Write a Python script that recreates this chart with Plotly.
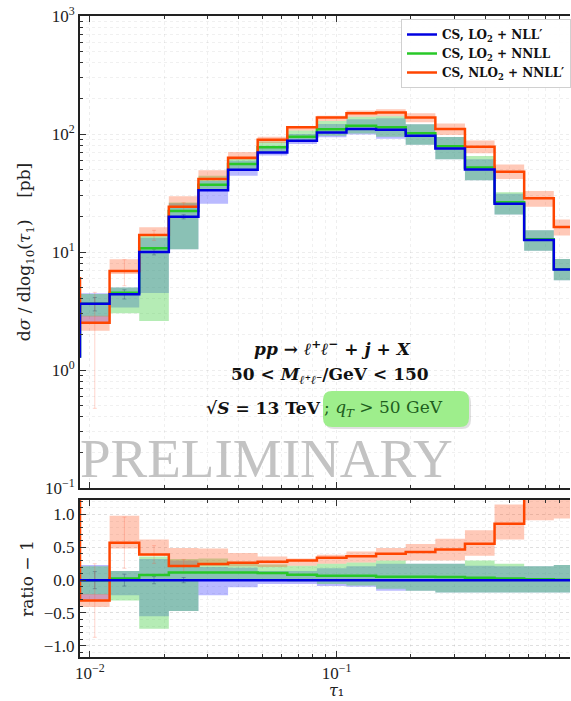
import numpy as np
import plotly.graph_objects as go

# ---------------- data ----------------
# bin edges in tau_1 (first bin lies just left of the visible range)
edges = [0.00692, 0.00912, 0.01202, 0.01585, 0.02089, 0.02754, 0.03631, 0.04786,
         0.0631, 0.08318, 0.1096, 0.1445, 0.1905, 0.2512, 0.3311, 0.4365,
         0.5754, 0.7586, 1.0]

# CS, LO2 + NLL'  : d sigma / d log10(tau1)  [pb]
blue_xs = [1.3, 3.64, 4.39, 10.0, 19.9, 33.3, 49.8, 69.8, 87.6, 103.0, 110.0,
           108.7, 96.6, 75.3, 50.1, 25.7, 12.66, 7.10]

# ratios to the LO2 + NLL' central value, minus 1
green_ratio = [0.0, 0.0, 0.026, 0.077, 0.118, 0.118, 0.118, 0.108, 0.082, 0.067,
               0.067, 0.05, 0.05, 0.046, 0.036, 0.026, 0.015, 0.005]
orange_ratio = [3.6, -0.31, 0.57, 0.39, 0.215, 0.246, 0.265, 0.28, 0.30, 0.34,
                0.365, 0.40, 0.43, 0.467, 0.554, 0.86, 1.25, 1.29]

# uncertainty bands (ratio - 1 units)
blue_lo = [0.0, -0.30, -0.23, -0.55, -0.47, -0.23, -0.11, -0.06, -0.06, -0.09,
           -0.10, -0.16, -0.16, -0.19, -0.19, -0.19, -0.19, -0.19]
blue_hi = [0.0, 0.23, 0.14, 0.32, 0.30, 0.20, 0.19, 0.14, 0.14, 0.18, 0.21,
           0.25, 0.25, 0.25, 0.22, 0.21, 0.21, 0.23]
green_lo = [0.0, -0.22, -0.31, -0.74, -0.47, -0.01, 0.0, 0.0, -0.02, -0.06,
            -0.08, -0.13, -0.16, -0.19, -0.19, -0.19, -0.19, -0.19]
green_hi = [0.0, 0.21, 0.14, 0.36, 0.32, 0.33, 0.28, 0.24, 0.22, 0.25, 0.27,
            0.30, 0.25, 0.25, 0.30, 0.25, 0.21, 0.23]
orange_lo = [3.6, -0.41, 0.48, 0.37, 0.20, 0.22, 0.21, 0.20, 0.22, 0.25, 0.27,
             0.30, 0.30, 0.30, 0.37, 0.62, 0.91, 0.94]
orange_hi = [3.6, -0.21, 0.98, 0.62, 0.49, 0.48, 0.415, 0.36, 0.33, 0.385,
             0.435, 0.49, 0.55, 0.63, 0.76, 1.15, 1.60, 1.65]

# faint statistical error bars (ratio units), first bins only
stat_bins = [1, 2, 3, 4]
blue_stat = [0.13, 0.09, 0.055, 0.04]
orange_stat = [0.56, 0.39, 0.135, 0.10]

labels = ["<b>CS, LO<sub>2</sub> + NLL′</b>", "<b>CS, LO<sub>2</sub> + NNLL</b>",
          "<b>CS, NLO<sub>2</sub> + NNLL′</b>"]

y_ticks = [0.1, 1, 10, 100, 1000]
y_ticktext = ["10<sup>−1</sup>", "10<sup>0</sup>", "10<sup>1</sup>",
              "10<sup>2</sup>", "10<sup>3</sup>"]
x_ticks = [0.01, 0.1]
x_ticktext = ["10<sup>−2</sup>", "10<sup>−1</sup>"]
r_ticks = [-1.0, -0.5, 0.0, 0.5, 1.0]
r_ticktext = ["−1.0", "−0.5", "0.0", "0.5", "1.0"]

# ---------------- styling ----------------
C_BLUE, C_GREEN, C_ORANGE = "rgb(0,0,225)", "rgb(40,200,40)", "rgb(255,69,0)"
F_BLUE = "rgba(40,40,255,0.32)"
F_GREEN = "rgba(60,205,60,0.38)"
F_ORANGE = "rgba(255,90,40,0.33)"
FONT = "Liberation Serif"
WFONT = "DejaVu Serif"

e = np.array(edges)
blue = np.array(blue_xs)


def step_xy(vals):
    return list(e), list(vals) + [vals[-1]]


def band_poly(lo, hi):
    xs, ys = [], []
    for i in range(len(lo)):
        xs += [e[i], e[i + 1]]
        ys += [hi[i], hi[i]]
    for i in reversed(range(len(lo))):
        xs += [e[i + 1], e[i]]
        ys += [lo[i], lo[i]]
    return xs, ys


fig = go.Figure()

bands = [(blue_lo, blue_hi, F_BLUE), (green_lo, green_hi, F_GREEN),
         (orange_lo, orange_hi, F_ORANGE)]
for lo, hi, fc in bands:
    lo = np.array(lo); hi = np.array(hi)
    bx, by = band_poly(blue * (1 + lo), blue * (1 + hi))
    fig.add_trace(go.Scatter(x=bx, y=by, fill="toself", fillcolor=fc, mode="none",
                             showlegend=False, hoverinfo="skip", xaxis="x", yaxis="y"))
    rx, ry = band_poly(lo, hi)
    fig.add_trace(go.Scatter(x=rx, y=ry, fill="toself", fillcolor=fc, mode="none",
                             showlegend=False, hoverinfo="skip", xaxis="x2", yaxis="y2"))

# faint stat error bars
centers = np.sqrt(e[:-1] * e[1:])
sb = np.array(stat_bins)
for stat, rat, col in [(blue_stat, np.zeros(len(blue)), "rgba(60,90,120,0.45)"),
                       (orange_stat, np.array(orange_ratio), "rgba(255,90,60,0.25)")]:
    st = np.array(stat)
    fig.add_trace(go.Scatter(x=centers[sb], y=blue[sb] * (1 + rat[sb]), mode="markers",
                             marker=dict(size=1, color="rgba(0,0,0,0)"),
                             error_y=dict(type="data", array=st * blue[sb], color=col,
                                          thickness=1, width=2),
                             showlegend=False, hoverinfo="skip", xaxis="x", yaxis="y"))
    fig.add_trace(go.Scatter(x=centers[sb], y=rat[sb], mode="markers",
                             marker=dict(size=1, color="rgba(0,0,0,0)"),
                             error_y=dict(type="data", array=st, color=col,
                                          thickness=1, width=2),
                             showlegend=False, hoverinfo="skip", xaxis="x2", yaxis="y2"))

# central lines
series = [(np.array(green_ratio), C_GREEN),
          (np.array(orange_ratio), C_ORANGE),
          (np.zeros(len(blue)), C_BLUE)]
for rat, col in series:
    sx, sy = step_xy(blue * (1 + rat))
    fig.add_trace(go.Scatter(x=sx, y=sy, mode="lines", line=dict(color=col, width=2.5, shape="hv"),
                             showlegend=False, xaxis="x", yaxis="y"))
    rx, ry = step_xy(rat)
    fig.add_trace(go.Scatter(x=rx, y=ry, mode="lines", line=dict(color=col, width=2.5, shape="hv"),
                             showlegend=False, xaxis="x2", yaxis="y2"))

# legend entries (in legend order)
for col, name in [(C_BLUE, labels[0]), (C_GREEN, labels[1]), (C_ORANGE, labels[2])]:
    fig.add_trace(go.Scatter(x=[None], y=[None], mode="lines",
                             line=dict(color=col, width=2.5), name=name,
                             xaxis="x", yaxis="y"))

# ---------------- layout ----------------
W, H = 571, 701
L, R, T, B = 80, 1, 16, 44
pw, ph = W - L - R, H - T - B


def px(xp):
    return (xp - L) / pw


def py(yp):
    return (H - B - yp) / ph


grid = dict(showgrid=True, gridcolor="rgba(0,0,0,0.07)", griddash="dot", gridwidth=1)
minor_x = dict(ticks="inside", ticklen=3, tickcolor="#333", showgrid=True,
               gridcolor="rgba(0,0,0,0.06)", griddash="dot",
               tickvals=[m * 10 ** k for k in (-3, -2, -1) for m in range(2, 10)])
xr = [np.log10(e[1]), -1 + (570 - 336.7) / 246.7]
xcommon = dict(type="log", range=xr, showline=True, linecolor="#222", linewidth=2,
               mirror="ticks", ticks="inside", ticklen=6, tickcolor="#333",
               tickvals=x_ticks, ticktext=x_ticktext, minor=minor_x, zeroline=False,
               tickfont=dict(family=FONT, size=17, color="#222"), **grid)

top_lo = py(488)
rat_hi = py(500)

fig.update_layout(
    width=W, height=H, margin=dict(l=L, r=R, t=T, b=B, autoexpand=False),
    paper_bgcolor="white", plot_bgcolor="white",
    font=dict(family=FONT, color="#222"),
    xaxis=dict(domain=[0, 1], anchor="y", showticklabels=False, **xcommon),
    xaxis2=dict(domain=[0, 1], anchor="y2", matches="x", showticklabels=True, **xcommon),
    yaxis=dict(domain=[top_lo, 1], anchor="x", type="log", range=[-1, 3],
               showline=True, linecolor="#222", linewidth=2, ticks="inside", ticklen=6,
               tickcolor="#333", tickvals=y_ticks, ticktext=y_ticktext,
               tickfont=dict(family=FONT, size=17, color="#222"),
               minor=dict(ticks="inside", ticklen=3, tickcolor="#333", showgrid=True,
                          gridcolor="rgba(0,0,0,0.06)", griddash="dot",
                          tickvals=[m * 10 ** k for k in (-1, 0, 1, 2) for m in range(2, 10)]),
               title=dict(text="d<i>σ</i> / dlog<sub>10</sub>(<i>τ</i><sub>1</sub>)\u00a0\u00a0\u00a0\u00a0[pb]",
                          font=dict(family=WFONT, size=17), standoff=10),
               zeroline=False, **grid),
    yaxis2=dict(domain=[0, rat_hi], anchor="x2", range=[-1.17, 1.22],
                showline=True, linecolor="#222", linewidth=2, ticks="inside", ticklen=6,
                tickcolor="#333", tickvals=r_ticks, ticktext=r_ticktext,
                tickfont=dict(family=FONT, size=17, color="#222"),
                minor=dict(ticks="inside", ticklen=3, tickcolor="#333", dtick=0.1,
                           showgrid=True, gridcolor="rgba(0,0,0,0.06)", griddash="dot"),
                title=dict(text="ratio − 1", font=dict(family=WFONT, size=17), standoff=6),
                zeroline=False, **grid),
    legend=dict(x=px(401), y=py(19), xanchor="left", yanchor="top",
                bgcolor="rgba(255,255,255,0.9)", bordercolor="#d0d0d0", borderwidth=1,
                font=dict(family=WFONT, size=12, color="#111"), itemwidth=30,
                tracegroupgap=0),
)

# x-axis title as an annotation below the tick labels
fig.add_annotation(xref="paper", yref="paper", showarrow=False, x=px(336), y=py(690),
                   xanchor="center", yanchor="middle", text="<i>τ</i>₁",
                   font=dict(family=WFONT, size=16, color="#222"), borderpad=0)

ann = [
    dict(text="<b><i>pp</i> → <i>ℓ</i><sup>+</sup><i>ℓ</i><sup>−</sup> + <i>j</i> + <i>X</i></b>",
         x=px(332), y=py(348)),
    dict(text="<b>50 < <i>M</i><sub><i>ℓ</i>⁺<i>ℓ</i>⁻</sub>/GeV < 150</b>",
         x=px(330), y=py(375)),
]
for a in ann:
    fig.add_annotation(xref="paper", yref="paper", showarrow=False,
                       font=dict(family=WFONT, size=17, color="#111"),
                       xanchor="center", yanchor="middle", **a)


def rrect(x0, y0, x1, y1, rpx):
    rx, ry = rpx / pw, rpx / ph
    X0, X1 = px(x0), px(x1)
    Y0, Y1 = py(y1), py(y0)
    return (f"M {X0+rx},{Y0} L {X1-rx},{Y0} Q {X1},{Y0} {X1},{Y0+ry} "
            f"L {X1},{Y1-ry} Q {X1},{Y1} {X1-rx},{Y1} L {X0+rx},{Y1} "
            f"Q {X0},{Y1} {X0},{Y1-ry} L {X0},{Y0+ry} Q {X0},{Y0} {X0+rx},{Y0} Z")


fig.add_shape(type="path", xref="paper", yref="paper", path=rrect(325, 393, 471, 429, 9),
              fillcolor="rgba(0,0,0,0.12)", line=dict(width=0))
fig.add_shape(type="path", xref="paper", yref="paper", path=rrect(323, 391, 469, 427, 9),
              fillcolor="rgb(158,238,140)", line=dict(width=0))

fig.add_annotation(xref="paper", yref="paper", showarrow=False, x=px(323), y=py(408),
                   xanchor="right", yanchor="middle",
                   text="<b>√<i>S</i> = 13 TeV</b>",
                   font=dict(family=WFONT, size=17, color="#111"))
fig.add_annotation(xref="paper", yref="paper", showarrow=False, x=px(322), y=py(408),
                   xanchor="left", yanchor="middle",
                   text="; <i>q</i><sub><i>T</i></sub> > 50 GeV",
                   font=dict(family=WFONT, size=17, color="rgb(30,95,30)"))

fig.add_annotation(xref="paper", yref="paper", showarrow=False, x=px(266), y=py(458),
                   xanchor="center", yanchor="middle", text="PRELIMINARY",
                   font=dict(family=FONT, size=55, color="rgb(195,195,195)"))

fig.write_html("out.html")
